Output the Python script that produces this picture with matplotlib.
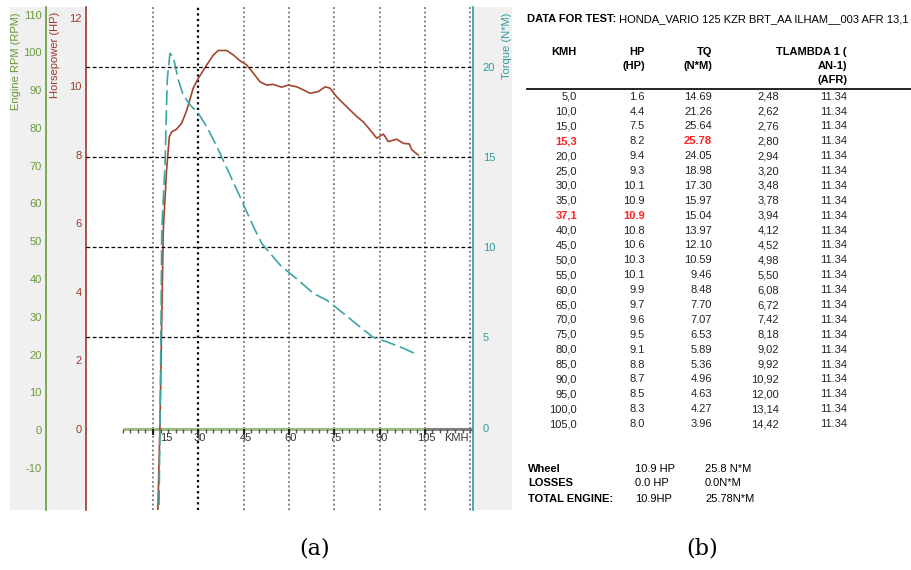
import matplotlib
matplotlib.use("Agg")
import matplotlib.pyplot as plt
from matplotlib.patches import Rectangle
from matplotlib.lines import Line2D
from matplotlib.markers import TICKDOWN

plt.rcParams['font.family'] = ['Liberation Sans', 'DejaVu Sans']
plt.rcParams['axes.unicode_minus'] = False

# ---------------- chart data ----------------
hp_kmh = [16.6, 17.3, 18.4, 19.5, 20.4, 21.2, 22.8, 24.5, 26.2, 28.3, 30.0, 32.8, 35.0,
          36.6, 39.4, 41.6, 43.8, 46.0, 48.2, 50.4, 52.6, 54.8, 57.6, 59.8, 62.6, 64.8,
          67.0, 69.7, 72.0, 73.6, 75.8, 79.1, 82.5, 84.6, 86.9, 89.1, 91.3, 92.9, 95.7,
          97.9, 99.9, 100.7, 102.8]
hp_val = [-2.4, 0.06, 5.81, 7.56, 8.53, 8.68, 8.75, 8.93, 9.31, 9.95, 10.24, 10.63, 10.92,
          11.05, 11.05, 10.92, 10.75, 10.63, 10.39, 10.14, 10.04, 10.06, 9.98, 10.04, 9.99,
          9.90, 9.80, 9.85, 9.99, 9.95, 9.70, 9.41, 9.12, 8.97, 8.73, 8.49, 8.61, 8.39,
          8.46, 8.34, 8.32, 8.15, 8.00]

tq_kmh = [17.0, 17.5, 17.9, 19.0, 19.7, 20.6, 21.7, 23.4, 25.0, 27.3, 30.0, 32.8, 35.6,
          37.7, 40.5, 43.8, 46.0, 48.8, 51.0, 57.1, 63.7, 68.1, 72.5, 78.0, 83.5, 87.9,
          92.4, 97.9, 102.8]
tq_val = [-4.3, 3.0, 10.94, 14.65, 19.25, 20.73, 20.54, 19.25, 18.42, 17.87, 17.41, 16.66,
          15.75, 15.0, 13.99, 12.79, 11.96, 10.94, 10.2, 9.0, 8.08, 7.43, 7.06, 6.33, 5.58,
          5.0, 4.75, 4.39, 4.02]

rpm_ticks = [-10, 0, 10, 20, 30, 40, 50, 60, 70, 80, 90, 100, 110]
hp_ticks = [0, 2, 4, 6, 8, 10, 12]
tq_ticks = [0, 5, 10, 15, 20]
kmh_ticks = [15, 30, 45, 60, 75, 90, 105]
kmh_grid = [15, 30, 45, 60, 75, 90, 105, 120]
kmh_minor = [5 + 2.5 * i for i in range(47)]

# ---------------- table data ----------------
title_bold = "DATA FOR TEST:"
title_rest = " HONDA_VARIO 125 KZR BRT_AA ILHAM__003 AFR 13,1"
tbl_kmh = ["5,0", "10,0", "15,0", "15,3", "20,0", "25,0", "30,0", "35,0", "37,1", "40,0",
           "45,0", "50,0", "55,0", "60,0", "65,0", "70,0", "75,0", "80,0", "85,0", "90,0",
           "95,0", "100,0", "105,0"]
tbl_hp = ["1.6", "4.4", "7.5", "8.2", "9.4", "9.3", "10.1", "10.9", "10.9", "10.8", "10.6",
          "10.3", "10.1", "9.9", "9.7", "9.6", "9.5", "9.1", "8.8", "8.7", "8.5", "8.3", "8.0"]
tbl_tq = ["14.69", "21.26", "25.64", "25.78", "24.05", "18.98", "17.30", "15.97", "15.04",
          "13.97", "12.10", "10.59", "9.46", "8.48", "7.70", "7.07", "6.53", "5.89", "5.36",
          "4.96", "4.63", "4.27", "3.96"]
tbl_lam = ["2,48", "2,62", "2,76", "2,80", "2,94", "3,20", "3,48", "3,78", "3,94", "4,12",
           "4,52", "4,98", "5,50", "6,08", "6,72", "7,42", "8,18", "9,02", "9,92", "10,92",
           "12,00", "13,14", "14,42"]
tbl_afr = ["11.34"] * 23
red_kmh_rows = [3, 8]
red_tq_rows = [3]
red_hp_rows = [8]
sum_labels = ["Wheel", "LOSSES", "TOTAL ENGINE:"]
sum_hp = ["10.9 HP", "0.0 HP", "10.9HP"]
sum_tq = ["25.8 N*M", "0.0N*M", "25.78N*M"]

# ---------------- figure ----------------
W, H = 911, 570
fig = plt.figure(figsize=(W / 100, H / 100), dpi=100)

def fx(x):
    return x / W

def fy(y):
    return 1 - y / H

C_RPM = '#6a9a3a'
C_HP = '#9a3a28'
C_TQ = '#2f9e9e'
GREY_BG = '#f0f0f0'

fig.patches.append(Rectangle((fx(10), fy(510)), fx(512) - fx(10), fy(7) - fy(510),
                             transform=fig.transFigure, facecolor=GREY_BG,
                             edgecolor='none', zorder=-5))

L, R, T, B = 86, 473, 7, 510
ax = fig.add_axes([fx(L), fy(B), fx(R) - fx(L), fy(T) - fy(B)])
ax.set_zorder(1)
ax.set_facecolor('white')
ax.set_xlim(-7.19, 120.96)
ax.set_ylim(-2.365, 12.32)
for s in ['top', 'bottom', 'right']:
    ax.spines[s].set_visible(False)
ax.spines['left'].set_color(C_HP)
ax.spines['left'].set_linewidth(1.2)
ax.set_xticks([])
ax.set_yticks(hp_ticks)
ax.tick_params(axis='y', length=0, pad=3, labelsize=8, labelcolor=C_HP)

ax_tq = ax.twinx()
ax_tq.set_zorder(2)
ax_tq.set_ylim(-4.57, 23.30)
for s in ['top', 'bottom', 'left']:
    ax_tq.spines[s].set_visible(False)
ax_tq.spines['right'].set_color(C_TQ)
ax_tq.spines['right'].set_linewidth(1.2)
ax_tq.set_yticks(tq_ticks)
ax_tq.tick_params(axis='y', length=0, pad=7, labelsize=8, labelcolor=C_TQ)

ax_rpm = ax.twinx()
ax_rpm.set_zorder(2)
ax_rpm.set_ylim(-21.19, 112.05)
for s in ['top', 'bottom', 'right']:
    ax_rpm.spines[s].set_visible(False)
ax_rpm.spines['left'].set_visible(True)
ax_rpm.spines['left'].set_position(('axes', (46 - L) / (R - L)))
ax_rpm.spines['left'].set_color(C_RPM)
ax_rpm.spines['left'].set_linewidth(1.2)
ax_rpm.yaxis.set_ticks_position('left')
ax_rpm.yaxis.set_label_position('left')
ax_rpm.set_yticks(rpm_ticks)
ax_rpm.tick_params(axis='y', length=0, pad=3, labelsize=8, labelcolor=C_RPM)

# grid lines
for k in kmh_grid:
    if k == 30:
        ax.axvline(k, color='black', lw=1.6, ls=(0, (1, 1.5)), zorder=1)
    else:
        ax.axvline(k, color='#777777', lw=1.3, ls=(0, (1, 1.5)), zorder=1)
for t in tq_ticks[1:]:
    ax_tq.axhline(t, color='black', lw=0.9, ls=(0, (3, 2)), zorder=1)

# zero axis line
ax.plot([5, 105], [0, 0], color='#9cbb80', lw=2.2, zorder=2, solid_capstyle='butt')
ax.plot([105, 120.96], [0, 0], color='#808080', lw=2.2, zorder=2, solid_capstyle='butt')
ax.plot(kmh_minor, [0] * len(kmh_minor), ls='none', marker=TICKDOWN, ms=3,
        mew=1, color='#555555', zorder=2)
ax.plot(kmh_ticks, [0] * len(kmh_ticks), ls='none', marker=TICKDOWN, ms=4,
        mew=1.5, color='#222222', zorder=2)
for k in kmh_ticks:
    if k == 15:
        ax.text(k + 2.3, -0.26, str(k), ha='left', va='center', fontsize=8, color='#333333')
    else:
        ax.text(k + 0.6, -0.26, str(k), ha='center', va='center', fontsize=8, color='#333333')
ax.text(115.3, -0.26, "KMH", ha='center', va='center', fontsize=8, color='#333333')

# curves
ax.plot(hp_kmh, hp_val, color='#a2452f', lw=1.2, zorder=4)
ax_tq.plot(tq_kmh, tq_val, color='#3aa6a6', lw=1.2, ls=(0, (9, 3)), zorder=4)

# axis titles
fig.text(fx(16), fy(12), "Engine RPM (RPM)", rotation=90, ha='center', va='top',
         fontsize=8, color=C_RPM)
fig.text(fx(55), fy(12), "Horsepower (HP)", rotation=90, ha='center', va='top',
         fontsize=8, color=C_HP)
fig.text(fx(507), fy(13), "Torque (N*M)", rotation=90, ha='center', va='top',
         fontsize=8, color=C_TQ)

# ---------------- table (b) ----------------
FS = 8
t1 = fig.text(fx(527), fy(19), title_bold, fontsize=FS, fontweight='bold', va='center', ha='left')
fig.canvas.draw()
bb = t1.get_window_extent()
fig.text(bb.x1 / W, fy(19), title_rest, fontsize=FS, va='center', ha='left')

hdr = [(577, 52, "KMH"), (645, 52, "HP"), (645, 66, "(HP)"), (712, 52, "TQ"),
       (712, 66, "(N*M)"), (847, 52, "TLAMBDA 1 ("), (847, 66, "AN-1)"), (847, 80, "(AFR)")]
for x, y, s in hdr:
    fig.text(fx(x), fy(y), s, fontsize=FS, fontweight='bold', ha='right', va='center')
fig.add_artist(Line2D([fx(527), fx(911)], [fy(88.5), fy(88.5)], color='black', lw=1.2,
                      transform=fig.transFigure))

cols = [(577, tbl_kmh, red_kmh_rows), (645, tbl_hp, red_hp_rows), (712, tbl_tq, red_tq_rows),
        (779, tbl_lam, []), (847, tbl_afr, [])]
for i in range(len(tbl_kmh)):
    y = 96.7 + i * 14.88
    for x, col, reds in cols:
        if i in reds:
            fig.text(fx(x), fy(y), col[i], fontsize=FS, fontweight='bold', color='#ff2020',
                     ha='right', va='center')
        else:
            fig.text(fx(x), fy(y), col[i], fontsize=FS, color='#222222', ha='right', va='center')

for i in range(3):
    y = 468.5 + i * 15
    fig.text(fx(528), fy(y), sum_labels[i], fontsize=FS, fontweight='bold', ha='left', va='center')
    fig.text(fx(635), fy(y), sum_hp[i], fontsize=FS, ha='left', va='center')
    fig.text(fx(705), fy(y), sum_tq[i], fontsize=FS, ha='left', va='center')

# captions
fig.text(fx(315), fy(549), "(a)", fontsize=16, family='DejaVu Serif', ha='center', va='center')
fig.text(fx(702), fy(549), "(b)", fontsize=16, family='DejaVu Serif', ha='center', va='center')

fig.savefig("out.png", dpi=100)
